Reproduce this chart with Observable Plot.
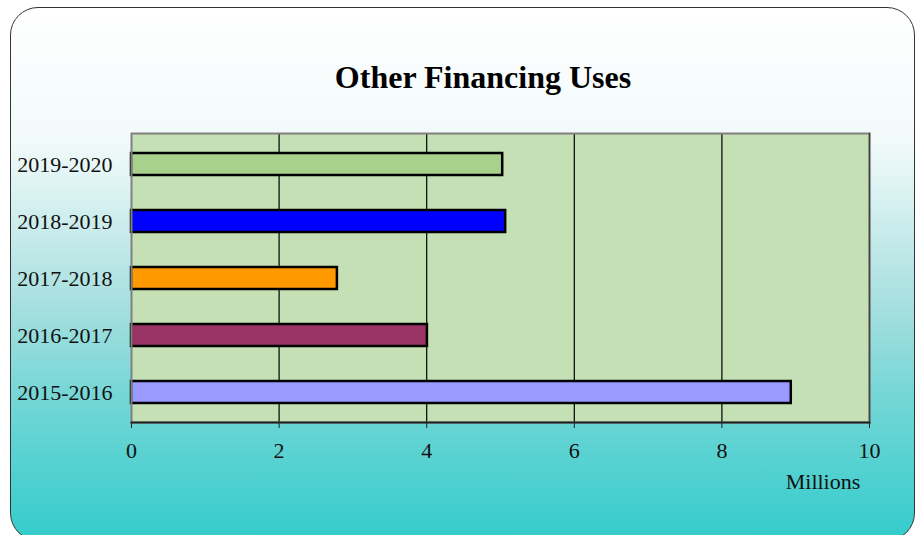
<!DOCTYPE html>
<html>
<head>
<meta charset="utf-8">
<script src="https://cdn.jsdelivr.net/npm/d3@7"></script>
<script src="https://cdn.jsdelivr.net/npm/@observablehq/plot@0.6"></script>
<style>
  html, body { margin: 0; padding: 0; background: #ffffff; }
  #wrap { position: relative; width: 917px; height: 535px; overflow: hidden; font-family: "Liberation Serif", "Times New Roman", serif; }
  #bg { position: absolute; left: 10px; top: 7px; width: 905px; height: 534px; box-sizing: border-box;
        border: 1.5px solid #333; border-radius: 28px;
        background: linear-gradient(to bottom, #ffffff 0%, #f2fafa 25%, #a9e0e0 55%, #70d5d5 75%, #33cccc 100%); }
  #title { position: absolute; left: 0; width: 966px; top: 61px; text-align: center; font-weight: bold; font-size: 32px; line-height: 32px; color: #000; }
  #unit { position: absolute; left: 723px; width: 200px; top: 471px; text-align: center; font-size: 22px; line-height: 22px; color: #111; }
  #chart { position: absolute; left: 0; top: 0; }
</style>
</head>
<body>
<div id="wrap">
  <div id="bg"></div>
  <div id="chart"></div>
  <div id="title">Other Financing Uses</div>
  <div id="unit">Millions</div>
</div>
<script>
const years = ["2019-2020", "2018-2019", "2017-2018", "2016-2017", "2015-2016"];
const values = [5.03, 5.07, 2.79, 4.01, 8.94];
const colors = ["#a9d18e", "#0000ff", "#ff9900", "#993366", "#9999ff"];
const xTicks = [0, 2, 4, 6, 8, 10];
const gridValues = [2, 4, 6, 8];

const data = years.map((y, i) => ({year: y, value: values[i], color: colors[i]}));

const chart = Plot.plot({
  width: 917,
  height: 535,
  marginLeft: 131,
  marginRight: 48,
  marginTop: 133,
  marginBottom: 113,
  style: {background: "transparent", fontFamily: "'Liberation Serif', 'Times New Roman', serif", fontSize: "22px", color: "#111"},
  x: {domain: [0, 10], ticks: xTicks},
  y: {domain: years, paddingInner: 0.62, paddingOuter: 0.31},
  color: {type: "identity"},
  marks: [
    Plot.frame({fill: "#c5e0b4", stroke: null}),
    Plot.ruleX(gridValues, {stroke: "#000", strokeWidth: 1.2}),
    Plot.barX(data, {x: "value", y: "year", fill: "color", stroke: "#000", strokeWidth: 2.5}),
    Plot.frame({stroke: "#808080", strokeWidth: 2}),
    Plot.frame({anchor: "bottom", stroke: "#222", strokeWidth: 2}),
    Plot.frame({anchor: "right", stroke: "#444", strokeWidth: 1.5}),
    Plot.axisX({ticks: xTicks, tickSize: 6, tickPadding: 14, label: null, fontSize: 22, stroke: "#222"}),
    Plot.axisY({tickSize: 0, tickPadding: 19, label: null, fontSize: 22})
  ]
});
document.getElementById("chart").appendChild(chart);
</script>
</body>
</html>
